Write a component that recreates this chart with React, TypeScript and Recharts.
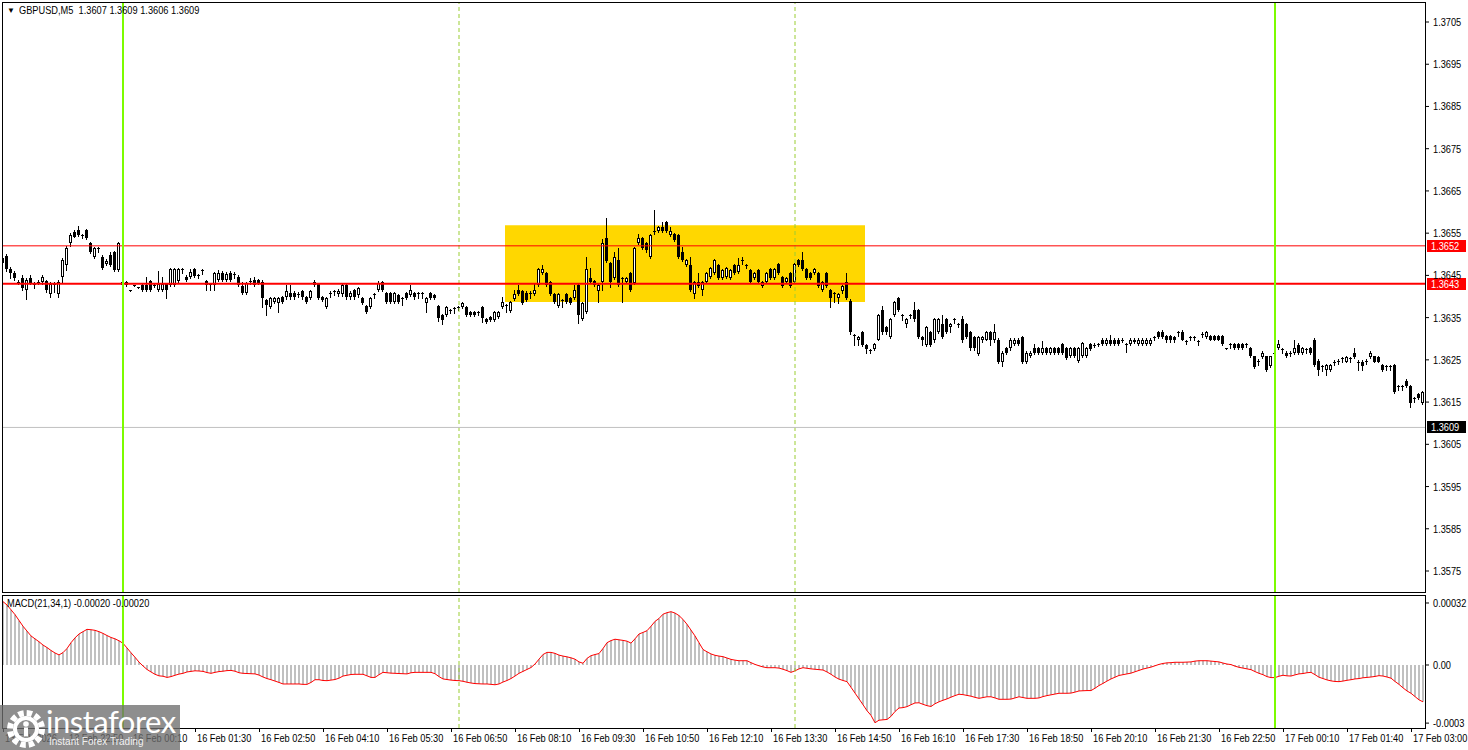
import { ComposedChart, Bar, Line, XAxis, YAxis, ReferenceLine, ReferenceArea } from 'recharts';

const FONT = "'Liberation Sans', Arial, sans-serif";
const SQUEEZE = 0.84; // MT4 uses a narrow 8pt Tahoma; squeeze Liberation Sans to match
const BASE = 1.36;

// GBPUSD M5 candles in pips above 1.3600: [open, high, low, close]
const ohlc: number[][] = [
  // 13 Feb 21:30 - 23:55
  [48, 50, 47, 49], [49.5, 50, 46, 46.5], [46.5, 47, 44.5, 45.5], [45.5, 46, 44, 44.5], [43.5, 44, 43, 43.5],
  [44.5, 45, 41.5, 42], [41.5, 44.5, 39.5, 44], [44.5, 45, 43, 43.2], [43, 43.5, 42, 43], [43.4, 44, 43, 43.4],
  [43.4, 45, 43, 44.6], [43.6, 44, 41, 41.5], [40.6, 43.5, 40, 43], [43, 43.5, 41, 43], [40.6, 44, 40, 43.4],
  [44.6, 49, 43.5, 48.6], [47.5, 52, 46.3, 51.5], [52.7, 55, 52, 54.6], [55.3, 55.7, 54, 54.2], [55.7, 56.7, 54.3, 54.6],
  [54.6, 54.9, 53.8, 54.6], [55.7, 56, 53.7, 53.9], [52.7, 53, 50.3, 50.5], [49.4, 51.8, 49, 51.5], [51.5, 51.8, 50.5, 51.5],
  [49.4, 49.8, 46.5, 46.7], [47.8, 48.8, 47.5, 48.5], [49.8, 50.5, 47.2, 47.5], [50.5, 50.8, 46, 46.3], [46.3, 53, 46, 52.7],
  // 16 Feb 00:00
  [43.4, 43.6, 42.5, 42.7], [43.4, 43.7, 42.5, 42.7], [41.5, 41.6, 41.4, 41.5], [42.7, 42.8, 42.6, 42.7], [42.2, 42.3, 42.1, 42.2],
  [42.7, 43, 41.3, 41.5], [42.7, 44.6, 41.3, 41.5], [43.6, 44, 41.3, 41.5], [42.7, 43, 42.2, 42.7], [41.5, 46, 41.3, 43],
  [41.5, 44.6, 41.3, 43], [43, 43.3, 39.6, 41.5], [42.7, 46.8, 42.5, 46.5], [42.7, 46.8, 42.5, 46.5], [43.6, 46.8, 43.4, 46.5],
  [46.5, 46.8, 45.5, 46.5], [44.6, 45, 43.6, 43.9], [44.6, 46.5, 44.4, 45.8], [46.5, 46.8, 44.6, 44.9], [45.1, 45.4, 44.3, 45.1],
  [46.3, 46.6, 45.3, 46.3], [43.6, 43.9, 41.5, 42.7], [43, 43.3, 41.5, 43], [42.7, 45.9, 41.5, 45.6], [43.9, 46.3, 43.6, 45.6],
  [45.6, 46, 43.6, 43.9], [43.9, 45.7, 43.6, 45.4], [45.6, 46, 43.6, 43.9], [45.4, 45.7, 44.5, 45.4], [44.6, 45, 42.5, 42.7],
  [42.5, 43.5, 40.5, 40.8], [40.8, 43.4, 40.5, 43.1], [43.6, 44.3, 42.9, 43.6], [43.9, 44.6, 42.6, 42.8], [43.9, 44.2, 43, 43.2],
  [43.4, 43.8, 37.5, 39.6], [39.2, 39.5, 35.6, 38], [37.5, 39.9, 37.3, 39.6], [38.7, 39.9, 38.5, 39.6], [38.5, 39.9, 36.3, 39.6],
  [39.8, 40.1, 38.5, 38.7], [39.8, 42.7, 39.5, 41.2], [40.9, 42.7, 39.5, 39.8], [40.9, 41.2, 39.5, 39.8], [40.7, 41, 39.8, 40.7],
  [41.2, 41.5, 39.5, 39.8], [39.8, 40.1, 38.4, 38.7], [39.6, 41.5, 39.3, 41.2], [42.7, 43.9, 42.5, 43.4], [43, 43.3, 39.3, 39.6],
  [39.8, 40.1, 38.9, 39.2], [37.5, 39.9, 37.2, 39.6], [40.9, 41.2, 40, 40.9], [41.2, 41.5, 40.3, 41.2], [40.5, 41.7, 40.2, 41.4],
  [40.5, 43.2, 40.2, 42.7], [42.7, 43, 39.5, 39.8], [39.8, 41.2, 39.5, 40.9], [41.5, 41.8, 39.5, 39.8], [40.3, 42.3, 40, 42],
  [39.6, 39.9, 38.2, 38.5], [37.7, 38, 36, 36.3], [37.5, 39.9, 37.2, 39.6], [40.6, 40.9, 39.6, 40.6], [41.5, 43.7, 41.2, 43.2],
  [43.4, 43.7, 41.2, 41.5], [40.8, 41.1, 38.4, 38.7], [40.8, 41.1, 38.4, 38.7], [38.7, 41.1, 38.4, 40.8], [40.4, 40.7, 38.4, 38.7],
  [39.6, 39.9, 38, 39.6], [40.8, 41.1, 39.3, 39.6], [40.4, 42.7, 40.1, 41.5], [40.8, 41.1, 39.5, 39.8], [40.8, 41.1, 39.6, 40.8],
  [40.8, 41.1, 39.6, 40.8], [38.5, 39.9, 36.3, 39.6], [40.8, 41.1, 39.3, 39.6], [40.4, 40.7, 39.3, 39.6], [37.7, 38, 34.2, 34.9],
  [35.6, 35.9, 33.5, 34.4], [35.6, 37.8, 35.3, 37.5], [36.8, 37.1, 36, 36.8], [37.3, 37.6, 36, 37.3], [37.5, 37.8, 36.8, 37.5],
  [37.5, 38.8, 37.2, 38.5], [37.5, 37.8, 35.3, 35.6], [36.3, 36.6, 35.3, 35.6], [36.3, 36.6, 35.3, 35.6], [36.3, 36.6, 35.6, 36.3],
  [37.5, 37.8, 34, 34.9], [34.7, 35, 33.7, 34], [35.1, 35.4, 34.1, 34.4], [34.4, 36.6, 34.1, 36.3], [35.1, 36.6, 34.8, 36.3],
  [37.5, 39.8, 37.2, 38.7], [38, 38.3, 36.3, 38], [36.6, 39, 36.3, 38.7], [39.4, 41.5, 39.1, 40.6], [41.5, 42.7, 40.3, 40.6],
  [41.2, 41.5, 38.2, 38.5], [40.9, 41.2, 38.9, 39.2], [40.9, 41.2, 39.6, 40.9], [40.6, 43.2, 40.3, 41.5], [42.7, 46.8, 42.4, 46.5],
  [45.6, 47.5, 45.3, 46.5], [45.6, 45.9, 42.4, 42.7], [43.4, 43.7, 40.3, 40.6], [40.6, 40.9, 38.4, 38.7], [37.7, 40.9, 37.4, 40.6],
  [39.2, 39.5, 37.5, 39.2], [40.6, 40.9, 38.4, 38.7], [39.6, 39.9, 38.2, 38.5], [39.6, 42.7, 39.3, 41.5], [42.7, 43, 33.7, 35.6],
  [34.7, 38.8, 34.4, 38.5], [36.3, 49.4, 36, 46.5], [44.4, 46.7, 43.1, 43.4], [43.6, 43.9, 42.4, 42.7], [41.2, 43, 38.7, 42.7],
  [43.4, 53.5, 41.5, 52.7], [53.9, 58.6, 48.1, 48.4], [47.9, 48.2, 42.2, 43.4], [44.4, 50.5, 44.1, 49.4], [48.6, 51.5, 42.4, 42.7],
  [44.4, 44.7, 38.7, 44.4], [43.4, 44.7, 43.1, 44.4], [45.6, 45.9, 41.2, 41.5], [43.2, 51.8, 42.9, 51.5], [52.7, 54.8, 52.4, 53.9],
  [53.9, 54.2, 51.2, 51.5], [52.7, 53, 50.5, 51], [49.4, 54.9, 49.1, 54.6], [55.5, 60.5, 54.8, 55.5], [55.5, 56.8, 55.2, 56.5],
  [56.5, 57.6, 55.2, 55.5], [57.6, 57.9, 55.2, 55.5], [54.6, 56.5, 54.3, 55.5], [54.8, 55.1, 53.1, 53.4], [54.6, 54.9, 49.1, 49.4],
  [50.5, 51.7, 48.3, 48.6], [47.5, 48.9, 47.2, 48.6], [47.5, 49.4, 41.2, 41.5], [40.6, 43.7, 39.6, 43.4], [43.4, 45.6, 42.2, 42.5],
  [41.5, 43.7, 40.4, 43.4], [43.4, 45.9, 43.1, 45.6], [44.6, 47, 44.3, 46.7], [45.6, 48.9, 45.3, 48.6], [47.5, 47.8, 44.1, 44.4],
  [44.4, 46.6, 44.1, 46.3], [44.6, 47, 44.3, 46.7], [44.4, 46.6, 44.1, 46.3], [47.5, 47.8, 45.3, 45.6], [45.8, 49.1, 45.5, 47.5],
  [48.6, 49.4, 47.8, 48.6], [47.5, 47.8, 46.7, 47.5], [46.3, 46.6, 43.1, 43.4], [44.4, 45.9, 44.1, 45.6], [46.3, 46.6, 43.1, 43.4],
  [42.5, 43.7, 42.2, 43.4], [43.4, 45.9, 43.1, 45.6], [46.5, 46.8, 44.1, 44.4], [44.4, 46.8, 44.1, 46.5], [47.7, 48, 45.3, 45.6],
  [44.6, 44.9, 42.2, 42.5], [43.4, 44.7, 43.1, 44.4], [45.6, 45.9, 42.2, 42.5], [43.4, 48, 43.1, 47.7], [48.6, 48.9, 47.2, 47.5],
  [48.6, 50.5, 46.2, 46.5], [46.5, 46.8, 44.1, 44.4], [45.6, 45.9, 44.1, 44.4], [45.6, 46.8, 45.3, 46.5], [45.6, 45.9, 42.2, 42.5],
  [41.5, 43.7, 41.2, 43.4], [45.6, 45.9, 42.2, 42.5], [41.5, 41.8, 37.5, 39.6], [40.8, 41.1, 38.7, 40.8], [39.6, 40.9, 38.5, 40.6],
  [41.2, 42.8, 40.9, 42.5], [43.4, 45.6, 39.3, 39.6], [39, 39.3, 31.2, 31.5], [30.9, 31.1, 28.6, 30.9], [29.6, 30.7, 28.6, 30.4],
  [31.5, 31.8, 28.3, 28.6], [28.6, 28.8, 26.7, 27.5], [27.3, 27.5, 26.7, 27.3], [27.5, 29, 27.3, 28.8], [29.8, 35.9, 29.6, 35.7],
  [36.7, 37.8, 31.2, 31.5], [32.7, 33, 31.2, 31.5], [30.4, 34.9, 30.2, 34.6], [35.7, 38.9, 35.4, 38.6], [39.7, 39.8, 36.5, 36.7],
  [35.7, 35.9, 34.4, 35.7], [33.5, 34.9, 32.7, 34.6], [35.7, 35.9, 34.9, 35.7], [36.7, 38.6, 34.3, 34.6], [36.7, 37, 30.2, 30.4],
  [30.4, 30.7, 28.6, 29.6], [28.6, 33, 28.3, 32.7], [31.7, 31.9, 28.3, 28.6], [29.6, 34.9, 29.3, 34.6], [31.7, 34.9, 31.4, 34.6],
  [33.5, 35.7, 30.2, 30.4], [34.6, 34.9, 31.4, 31.7], [32.7, 33.8, 31.7, 33.5], [34.6, 34.9, 33.8, 34.6], [33.5, 33.8, 32.7, 33.5],
  [34.6, 35.3, 29.3, 29.6], [33.5, 33.8, 30.2, 30.4], [31.7, 31.9, 27.4, 27.7], [30.4, 30.7, 27.4, 27.7], [26.5, 30.7, 26.2, 30.4],
  [29.6, 30.7, 29.3, 30.4], [29.8, 31.9, 29.6, 31.7], [31.7, 31.9, 28.6, 29.6], [29.6, 33.5, 29.3, 31.7], [29.8, 30.1, 24.3, 24.6],
  [24.6, 27, 23.5, 26.7], [27.7, 28, 26.5, 26.7], [27.7, 30.1, 27.4, 29.8], [28.8, 30.1, 28.5, 29.8], [29.8, 30.1, 28.5, 28.8],
  [30.4, 30.7, 24.3, 24.6], [24.6, 27, 24.3, 26.7], [25.8, 27, 25.6, 26.7], [27.7, 28.8, 26.5, 26.7], [27.7, 28, 26.5, 26.7],
  [26.7, 29.4, 26.5, 27.7], [27.7, 28, 26.5, 26.7], [26.7, 28, 26.5, 27.7], [27.7, 28, 26.5, 26.7], [27.7, 28, 26.5, 26.7],
  [28.8, 29, 26.5, 26.7], [27.7, 28, 25.1, 25.4], [25.8, 28, 25.6, 27.7], [27.7, 28, 25.6, 25.8], [24.8, 28, 24.6, 27.7],
  [25.8, 29.2, 25.6, 28.9], [25.8, 28, 25.6, 27.7], [28.8, 29, 27.3, 27.5], [28.6, 28.9, 28, 28.6], [28.8, 29, 28.2, 28.8],
  [29.8, 30.1, 28.5, 28.8], [28.8, 30.1, 28.5, 29.8], [29.8, 30.8, 28.5, 28.8], [29.8, 30.1, 28.5, 28.8], [29.8, 30.1, 28.5, 28.8],
  [29.8, 30.1, 29.2, 29.8], [28.8, 29, 26.9, 28.8], [28.8, 30.1, 28.5, 29.8], [29.8, 30.1, 29.1, 29.3], [28.8, 30.1, 28.5, 29.8],
  [28.8, 30.1, 28.5, 29.8], [28.8, 30.1, 28.5, 29.8], [28.8, 30.1, 28.5, 29.8], [30.4, 30.7, 29.6, 30.4], [31.5, 31.8, 30.2, 30.4],
  [31.7, 32, 30.2, 30.4], [30.6, 30.9, 29.3, 29.6], [30.6, 30.9, 29.3, 29.6], [30.4, 30.7, 29.3, 29.6], [31.5, 31.8, 30.6, 31.5],
  [31.7, 32, 29.6, 29.8], [29.4, 29.7, 28.8, 29.4], [30.4, 30.7, 29.6, 30.4], [30.4, 30.7, 29.6, 30.4], [29.4, 29.7, 28.6, 29.4],
  [31.2, 31.5, 30.4, 31.2], [30.4, 31.8, 30.2, 31.5], [30.6, 30.9, 29.6, 29.8], [30.6, 30.9, 29.6, 29.8], [30.6, 30.9, 29.6, 29.8],
  [30.6, 30.9, 28.5, 28.8], [27.7, 27.8, 27.6, 27.7], [28.8, 29, 27.9, 28.8], [28.8, 29, 27.5, 27.7], [28.8, 29, 27.5, 27.7],
  [28.8, 29, 27.5, 27.7], [28.8, 29, 28, 28.8], [27.7, 28, 25.6, 25.8], [25.8, 26, 23, 23.3], [24.8, 25.1, 23.7, 24.8],
  [25.7, 27, 25.4, 26.7], [25.8, 26, 22.4, 22.6], [23.5, 26, 23.3, 25.8],
  // 17 Feb 00:00
  [26.7, 26.8, 26.6, 26.7], [27.7, 29.8, 27.5, 28.8],
  [27.5, 27.8, 26.7, 27.5], [26.7, 27, 25.6, 25.8], [26.7, 27, 26, 26.7], [26.7, 29.8, 26.5, 27.7], [28.6, 28.9, 26.5, 26.7],
  [26.7, 28, 26.5, 27.7], [27.5, 27.8, 26.7, 27.5], [27.7, 28, 26.5, 26.7], [29.8, 30.1, 23.5, 23.7], [24.8, 25.1, 21.4, 22.6],
  [23.5, 23.8, 22.4, 23.5], [22.6, 24, 21.4, 23.7], [22.6, 24, 22.4, 23.7], [24.6, 24.9, 23.7, 24.6], [24.8, 25.1, 24, 24.8],
  [25.4, 25.7, 24.6, 25.4], [24.6, 25.9, 24.4, 25.7], [25.4, 25.7, 24.6, 25.4], [26.7, 27.7, 25.4, 25.7], [24.6, 24.9, 22.6, 24.6],
  [24.6, 24.9, 22.6, 23.5], [24.8, 25.1, 24, 24.8], [25.7, 27, 25.4, 26.7], [25.8, 26, 24.4, 24.6], [25.7, 25.9, 24.4, 24.6],
  [23.7, 24, 22.4, 22.6], [23.5, 23.8, 22.6, 23.5], [23.5, 23.8, 22.6, 23.5], [23.7, 24, 17.2, 17.4], [18.7, 19, 17.9, 18.7],
  [18.7, 19, 17.9, 18.7], [19.9, 20.5, 18.5, 18.7], [18.7, 19, 13.9, 14.7], [15.9, 16.2, 15.1, 15.9], [16.8, 17.1, 15.7, 15.9],
  [14.7, 17.7, 14.5, 17.4],
];

// MACD(21,34,1) per bar, in units of 0.00001
const macd: number[] = [
  32.7, 31, 28.5, 26, 23, 20, 17.5, 15, 13.5, 12, 10.3, 9, 7.5, 6.2, 5.2, 6.4, 8.5, 11.5, 14, 16,
  17.2, 18.4, 18.2, 17.9, 17.2, 16.3, 15.2, 14.2, 13.5, 12.5,
  11.2, 8.8, 6.3, 4, 1.5, -0.5, -2.3, -3.6, -4.8, -5.6, -5.8, -6.4, -6, -5.3, -4.7, -4.3, -3.6, -3.3, -3, -3.1,
  -3.3, -3.9, -4.3, -3.8, -3.4, -3.2, -2.9, -2.8, -3.2, -4,
  -4.3, -4.4, -4.5, -4.6, -5.2, -6.2, -7, -7.6, -8.3, -9, -9.8, -9.8, -9.8, -9.8, -9.8, -10, -10, -9, -7.6, -7.6,
  -8, -8.1, -7.8, -7.5, -6.8, -5.7, -5.3, -4.9, -4.8, -4.8,
  -4.8, -5.6, -6.4, -6.4, -5, -3.8, -4, -4.2, -4.3, -4.4, -4.5, -4.6, -4, -3.8, -3.8, -3.8, -3.8, -3.8, -4.5, -6,
  -7.2, -7.5, -7.8, -8, -8.1, -8.4, -8.9, -9.3, -9.6, -9.7,
  -9.8, -9.8, -10, -10.2, -9.8, -8.8, -8, -7, -5.7, -4.3, -3.3, -2.3, -1.3, 0.5, 3, 5.4, 6.5, 6.5, 6, 5.1,
  4.6, 4.2, 3.7, 3, 1.6, 0.9, 3.4, 4.8, 5.4, 5.9,
  8.5, 11.5, 12.6, 13.3, 13, 12.7, 12.3, 11.3, 13.5, 16, 16.8, 17.7, 20, 22.5, 24, 26.2, 27, 27.5, 26.8, 25.5,
  23.5, 21, 18, 15, 11.5, 8, 6.8, 5.7, 5, 4.6,
  4.3, 3.6, 2.9, 2.5, 2.2, 2.2, 2.2, 1.2, 0.3, -0.4, -1, -1.4, -1.4, -1.4, -1.6, -2.2, -2.9, -3.8, -3, -2,
  -1.4, -1.7, -2, -2.2, -2.4, -2.6, -3.6, -4.8, -6.2, -7.3,
  -8, -8.6, -11.5, -14.5, -17.5, -20.5, -23.6, -26, -29.8, -28.5, -28.3, -28.1, -26.5, -24, -22.2, -22, -21.5, -20.5, -19.6, -19.5,
  -20.3, -21, -21.4, -20, -19, -18.2, -17.5, -16.6, -15.8, -15.1,
  -15.3, -15.7, -16.1, -16.7, -17.2, -16.8, -16.4, -16.4, -17, -17.7, -17.7, -17.7, -17.6, -17, -16.4, -16.8, -17.2, -17.2, -17.2, -17,
  -16.3, -15.8, -15.4, -15, -14.6, -14.6, -14.6, -14.5, -14, -13.4,
  -13.3, -13.2, -13.2, -12, -10.6, -9.5, -8.3, -7.2, -6.3, -5.4, -5, -4.6, -4.2, -3.5, -2.8, -2.1, -1.6, -1.1, -0.4, 0.3,
  0.8, 1.1, 1.2, 1.4, 1.4, 1.4, 1.5, 1.6, 2, 2.2,
  2.2, 2.2, 2, 1.8, 1.6, 1, 0.5, 0.2, -0.6, -1.2, -1.6, -2, -2.4, -3.4, -4.3, -5, -6, -6.5, -6.5, -5.8,
  -5.3, -5.6, -5.7, -5.1, -4.6, -4.4, -4, -3.8, -5, -6.3,
  -7, -7.7, -8.2, -8.5, -8.6, -8.3, -7.9, -7.6, -7.2, -7, -6.6, -6.4, -6.2, -5.9, -5.5, -5.7, -6.2, -6.8, -8.5, -10,
  -11.8, -13.4, -14.6, -16.3, -18, -19,
];

const priceTicks = [1.3705, 1.3695, 1.3685, 1.3675, 1.3665, 1.3655, 1.3645, 1.3635, 1.3625, 1.3615, 1.3605, 1.3595, 1.3585, 1.3575];
const timeTickIdx = [0, 16, 32, 48, 64, 80, 96, 112, 128, 144, 160, 176, 192, 208, 224, 240, 256, 272, 288, 304, 320, 336, 352];
const timeTickLabels = [
  '13 Feb 2026', '13 Feb 22:50', '16 Feb 00:10', '16 Feb 01:30', '16 Feb 02:50', '16 Feb 04:10', '16 Feb 05:30',
  '16 Feb 06:50', '16 Feb 08:10', '16 Feb 09:30', '16 Feb 10:50', '16 Feb 12:10', '16 Feb 13:30', '16 Feb 14:50',
  '16 Feb 16:10', '16 Feb 17:30', '16 Feb 18:50', '16 Feb 20:10', '16 Feb 21:30', '16 Feb 22:50', '17 Feb 00:10',
  '17 Feb 01:40', '17 Feb 03:00',
];
const macdTicks = [32, 0, -30];
const macdTickLabels = ['0.00032', '0.00', '-0.0003'];

const upperLevel = 1.3652;
const lowerLevel = 1.3643;
const bidLevel = 1.3609;
const boxFrom = 126;
const boxTo = 215;
const boxLow = 1.36387;
const boxHigh = 1.36569;
const dayLines = [30, 318];
const markLines = [114, 198];

const data = ohlc.map(([o, h, l, c], i) => ({
  i,
  o: BASE + o / 10000,
  h: BASE + h / 10000,
  l: BASE + l / 10000,
  c: BASE + c / 10000,
  range: [BASE + l / 10000, BASE + h / 10000],
  m: macd[i],
}));

const Candle = (props: any) => {
  const { x, y, width, height, payload } = props;
  if (!payload) return null;
  const { o, h, l, c } = payload;
  const top = Math.min(y, y + height);
  const span = Math.abs(height);
  const k = span / (h - l);
  const cx = Math.floor(x + width / 2) + 0.5;
  const yH = Math.round(top);
  const yL = Math.round(top + span);
  const yO = Math.round(top + (h - o) * k);
  const yC = Math.round(top + (h - c) * k);
  let body;
  if (yO === yC) {
    body = <line x1={cx - 1.5} x2={cx + 1.5} y1={yO + 0.5} y2={yO + 0.5} stroke="#000" />;
  } else if (c < o) {
    body = <rect x={cx - 1.5} y={yO} width={3} height={yC - yO} fill="#000" />;
  } else if (yO - yC < 2) {
    body = <rect x={cx - 1.5} y={yC} width={3} height={yO - yC} fill="#000" />;
  } else {
    body = <rect x={cx - 1} y={yC + 0.5} width={2} height={yO - yC - 1} fill="#fff" stroke="#000" strokeWidth={1} />;
  }
  return (
    <g>
      <line x1={cx} x2={cx} y1={yH} y2={yL + 1} stroke="#000" strokeWidth={1} />
      {body}
    </g>
  );
};

const NarrowText = ({ x, y, children, fill = '#000' }: any) => (
  <text x={0} y={0} transform={`translate(${x},${y}) scale(${SQUEEZE},1)`} fontSize={11} fontFamily={FONT} fill={fill}>
    {children}
  </text>
);

const priceTag = (bg: string, text: string) => (props: any) => {
  const vb = props.viewBox || {};
  const yy = Math.round(vb.y);
  const x0 = vb.x + vb.width + 2;
  return (
    <g>
      <rect x={x0} y={yy - 6} width={39} height={12} fill={bg} />
      <NarrowText x={x0 + 4} y={yy + 4} fill="#fff">{text}</NarrowText>
    </g>
  );
};

const PriceTick = (props: any) => {
  const { x, y, payload } = props;
  return <NarrowText x={x} y={y + 4}>{payload.value.toFixed(4)}</NarrowText>;
};

const MacdTick = (props: any) => {
  const { x, y, payload } = props;
  const k = macdTicks.indexOf(payload.value);
  return <NarrowText x={x} y={y + 4}>{k >= 0 ? macdTickLabels[k] : ''}</NarrowText>;
};

const TimeTick = (props: any) => {
  const { x, y, payload } = props;
  const k = timeTickIdx.indexOf(payload.value);
  if (k < 0) return null;
  const tx = Math.floor(x) + 0.5;
  return (
    <g>
      <line x1={tx} x2={tx} y1={y} y2={y + 4} stroke="#000" />
      <NarrowText x={tx + 1.5} y={y + 14}>{timeTickLabels[k]}</NarrowText>
    </g>
  );
};

const htmlNarrow = {
  fontFamily: FONT,
  fontSize: 11,
  color: '#000',
  whiteSpace: 'pre' as const,
  transform: `scaleX(${SQUEEZE})`,
  transformOrigin: 'left center',
};

export default function App() {
  return (
    <div style={{ position: 'relative', width: 1468, height: 750, background: '#fff', overflow: 'hidden' }}>
      <style>{'body{margin:0}'}</style>

      <div style={{ position: 'absolute', left: 0, top: 0 }}>
        <ComposedChart width={1468} height={593} data={data} margin={{ top: 3, right: 0, bottom: 1, left: 1 }} barCategoryGap="10%">
          <XAxis dataKey="i" type="category" hide />
          <YAxis
            orientation="right"
            width={43}
            type="number"
            domain={[1.357003, 1.37095]}
            allowDataOverflow
            ticks={priceTicks}
            interval={0}
            axisLine={false}
            tickLine={{ stroke: '#000' }}
            tickSize={4}
            tickMargin={4}
            tick={PriceTick}
          />
          <ReferenceArea x1={boxFrom} x2={boxTo} y1={boxLow} y2={boxHigh} fill="#FFD700" fillOpacity={1} stroke="none" />
          {markLines.map((i) => (
            <ReferenceLine key={'m' + i} x={i} stroke="#9ACD32" strokeDasharray="4 3" />
          ))}
          <Bar dataKey="range" shape={Candle} isAnimationActive={false} />
          <ReferenceLine y={bidLevel} stroke="#C0C0C0" label={priceTag('#000', '1.3609')} />
          <ReferenceLine y={upperLevel} stroke="#FF0000" label={priceTag('#FF0000', '1.3652')} />
          <ReferenceLine y={lowerLevel} stroke="#FF0000" strokeWidth={2} label={priceTag('#FF0000', '1.3643')} />
          {dayLines.map((i) => (
            <ReferenceLine key={'d' + i} x={i} stroke="#7CFC00" strokeWidth={2} />
          ))}
        </ComposedChart>
      </div>

      <div style={{ position: 'absolute', left: 0, top: 593 }}>
        <ComposedChart width={1468} height={157} data={data} margin={{ top: 3, right: 0, bottom: 0, left: 1 }} barCategoryGap="10%">
          <XAxis
            dataKey="i"
            type="category"
            height={22}
            interval={0}
            axisLine={false}
            tickLine={false}
            tickSize={0}
            tickMargin={0}
            tick={TimeTick}
          />
          <YAxis
            orientation="right"
            width={43}
            type="number"
            domain={[-32.52, 35.61]}
            allowDataOverflow
            ticks={macdTicks}
            interval={0}
            axisLine={false}
            tickLine={{ stroke: '#000' }}
            tickSize={4}
            tickMargin={4}
            tick={MacdTick}
          />
          <Bar dataKey="m" fill="#C0C0C0" barSize={2} isAnimationActive={false} />
          <Line dataKey="m" type="linear" stroke="#FF0000" strokeWidth={1} dot={false} activeDot={false} isAnimationActive={false} />
          {markLines.map((i) => (
            <ReferenceLine key={'mm' + i} x={i} stroke="#9ACD32" strokeDasharray="4 3" />
          ))}
          {dayLines.map((i) => (
            <ReferenceLine key={'dd' + i} x={i} stroke="#7CFC00" strokeWidth={2} />
          ))}
        </ComposedChart>
      </div>

      {/* panel frames */}
      <div style={{ position: 'absolute', left: 0, top: 0, width: 2, height: 750, background: '#fff' }} />
      <div style={{ position: 'absolute', left: 2, top: 2, width: 1424, height: 591, border: '1px solid #000', boxSizing: 'border-box', pointerEvents: 'none' }} />
      <div style={{ position: 'absolute', left: 2, top: 595, width: 1424, height: 134, border: '1px solid #000', boxSizing: 'border-box', pointerEvents: 'none' }} />

      {/* chart title */}
      <div style={{ position: 'absolute', left: 7, top: 4, display: 'flex', alignItems: 'center' }}>
        <span style={{ fontSize: 8, marginRight: 4, fontFamily: FONT }}>▼</span>
        <span style={htmlNarrow}>GBPUSD,M5  1.3607 1.3609 1.3606 1.3609</span>
      </div>
      <div style={{ position: 'absolute', left: 7, top: 597, ...htmlNarrow }}>MACD(21,34,1) -0.00020 -0.00020</div>

      {/* watermark */}
      <div style={{ position: 'absolute', left: 0, top: 705, width: 180, height: 45, background: 'rgba(110,110,110,0.78)' }}>
        <svg width={42} height={42} style={{ position: 'absolute', left: 5, top: 3 }}>
          <circle cx={21} cy={21} r={16} fill="none" stroke="#fff" strokeWidth={6} strokeDasharray="5.4 3" />
          <circle cx={21} cy={21} r={11} fill="none" stroke="#fff" strokeWidth={4} />
          <circle cx={21} cy={16} r={2.8} fill="#fff" />
          <rect x={19} y={19.5} width={4} height={9} fill="#fff" />
        </svg>
        <div style={{ position: 'absolute', left: 46, top: -3, fontFamily: 'Lato, sans-serif', fontSize: 31, color: '#fff', letterSpacing: -0.5 }}>instaforex</div>
        <div style={{ position: 'absolute', left: 49, top: 31, fontFamily: "'Liberation Sans', Arial, sans-serif", fontSize: 10, color: 'rgba(255,255,255,0.9)' }}>Instant Forex Trading</div>
      </div>
    </div>
  );
}
